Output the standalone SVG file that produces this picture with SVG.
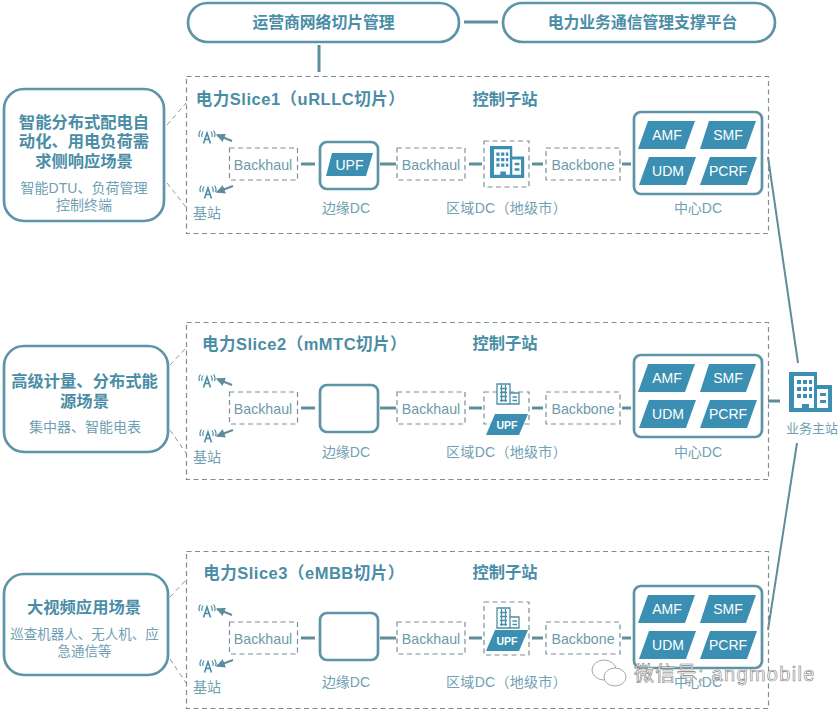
<svg xmlns="http://www.w3.org/2000/svg" width="840" height="713" viewBox="0 0 840 713">
<style>
text{font-family:"Liberation Sans","Noto Sans CJK SC",sans-serif;text-anchor:middle}
.pill,.scene,.solid{fill:#fff;stroke:#5d94a6;stroke-width:2.700}
.dash{fill:none;stroke:#7a8f98;stroke-width:1.200;stroke-dasharray:5 3.500}
.link{fill:none;stroke:#5f8d9c;stroke-width:3}
.thin{fill:none;stroke:#5f8d9c;stroke-width:2}
.lead{fill:none;stroke:#8a9ba2;stroke-width:1;stroke-dasharray:5 3.500}
.t1{font-size:15.800px;font-weight:bold;fill:#4a8da6}
.t2{font-size:16.300px;font-weight:bold;fill:#4a8da6}
.title{font-size:16.500px;font-weight:bold;fill:#4a8da6;letter-spacing:.5px}
.t3{font-size:14px;fill:#6fa0b3}
.t4{font-size:14.200px;fill:#6e9aa8}
.pg{fill:#3b8fb2}
.w{font-size:14px;fill:#fff}
.ws{font-size:10.500px;fill:#fff;font-weight:bold}
.wm{font-size:20px;fill:#fff;stroke:#808080;stroke-width:.6;text-anchor:start;letter-spacing:1.300px}
</style>
<defs>
<marker id="ah" viewBox="0 0 8 8" refX="7" refY="4" markerWidth="4.500" markerHeight="4.500" orient="auto-start-reverse"><path d="M0 0L8 4L0 8Z" fill="#5f8d9c"/></marker>
<symbol id="bld" viewBox="0 0 44 40" overflow="visible">
<path fill="#3b8fb2" fill-rule="evenodd" d="M2 0H28V13H43V40H0V0ZM5 4V36H13V32H20V36H25V4ZM28 17V36H39V17Z"/>
<path fill="#3b8fb2" d="M8 8h4v4H8zM14 8h4v4h-4zM20 8h3v4h-3zM8 15h4v4H8zM14 15h4v4h-4zM20 15h3v4h-3zM8 22h4v4H8zM14 22h4v4h-4zM20 22h3v4h-3zM31 21h6v3h-6zM31 28h6v3h-6z"/>
</symbol>
<symbol id="bldsm" viewBox="0 0 24 23" overflow="visible">
<path fill="none" stroke="#4a8da6" stroke-width="1.300" d="M1 1H14V21H1ZM14 10H23V21H14ZM4 5.500H11M4 9.500H11M4 13.500H11M4 17.500H11M5.500 2V19M9.500 2V19M16.500 14H21M16.500 17.500H21"/>
</symbol>
<g id="ant" fill="none" stroke="#4a8da6" stroke-width="1.200">
<path stroke-width="1.600" d="M-3.500 6.500L0 -4L3.500 6.500M-2 2.500H2"/>
<path d="M-4 -5.500Q-6 -3 -5 0M-6.500 -6.500Q-9 -3 -7.500 0M4 -5.500Q6 -3 5 0M6.500 -6.500Q9 -3 7.500 0"/>
</g>
<g id="core">
<rect class="solid" x="634" y="0" width="128" height="82" rx="7"/>
<path class="pg" d="M648 9H695L685 37H638Z"/>
<path class="pg" d="M709 9H756L746 37H700Z"/>
<path class="pg" d="M649 45H696L686 73H639Z"/>
<path class="pg" d="M710 45H757L747 73H700Z"/>
<text class="w" x="667" y="28">AMF</text>
<text class="w" x="728" y="28">SMF</text>
<text class="w" x="668" y="64">UDM</text>
<text class="w" x="728" y="64">PCRF</text>
</g>
<g id="chain">
<rect class="dash" x="229.500" y="-16" width="68" height="32"/>
<text class="t4" x="263" y="5.500">Backhaul</text>
<rect class="dash" x="397" y="-16" width="68" height="32"/>
<text class="t4" x="431" y="5.500">Backhaul</text>
<rect class="dash" x="546" y="-16" width="74" height="32"/>
<text class="t4" x="583" y="5.500">Backbone</text>
<use href="#ant" x="207" y="-27"/>
<use href="#ant" x="208" y="28"/>
<text class="t3" x="207" y="54">基站</text>
<text class="t3" x="346" y="49">边缘DC</text>
<text class="t3" x="506.500" y="49" style="letter-spacing:.3px">区域DC（地级市）</text>
</g>
<g id="chainlinks">
<path class="link" d="M301 0H315M380 0H396M469 0H482M532 0H543M622 0H631"/>
<path class="thin" marker-end="url(#ah)" d="M232 -23L217 -29"/>
<path class="thin" marker-end="url(#ah)" d="M233 22L217 28"/>
</g>
</defs>

<g id="connectors">
<path class="link" d="M464 22H498M319 45V72M768 401H780"/>
<path class="thin" d="M768 157L798 363M797 443L768 630"/>
<path class="lead" d="M167 125L186 103M167 183L186 207M170 365L186 348M170 430L186 453M170 597L186 580M170 659L186 683"/>
<use href="#chainlinks" y="164"/>
<use href="#chainlinks" y="408"/>
<use href="#chainlinks" y="638"/>
</g>

<g id="mgmt-operator"><rect class="pill" x="188" y="3" width="271" height="39" rx="19.500"/><text class="t1" x="323.500" y="27.500">运营商网络切片管理</text></g>
<g id="mgmt-power"><rect class="pill" x="503" y="3" width="272" height="39" rx="19.500"/><text class="t1" x="642.500" y="27.500">电力业务通信管理支撑平台</text></g>

<g id="scene1"><rect class="scene" x="4" y="89" width="160" height="132" rx="20"/>
<text class="t2" x="84" y="128">智能分布式配电自</text><text class="t2" x="84" y="147">动化、用电负荷需</text><text class="t2" x="84" y="167">求侧响应场景</text>
<text class="t3" x="84" y="193">智能DTU、负荷管理</text><text class="t3" x="84" y="210">控制终端</text></g>
<g id="scene2"><rect class="scene" x="4" y="346" width="164" height="106" rx="20"/>
<text class="t2" x="84.500" y="387">高级计量、分布式能</text><text class="t2" x="84.500" y="407">源场景</text><text class="t3" x="85" y="432">集中器、智能电表</text></g>
<g id="scene3"><rect class="scene" x="4" y="574" width="164" height="101" rx="20"/>
<text class="t2" x="84" y="613">大视频应用场景</text><text class="t3" x="84.500" y="639" style="font-size:13.500px">巡查机器人、无人机、应</text><text class="t3" x="84.500" y="656" style="font-size:13.500px">急通信等</text></g>

<g id="slice1">
<rect class="dash" x="186.500" y="76.500" width="582" height="157"/>
<text class="title" x="300.500" y="105">电力Slice1（uRLLC切片）</text><text class="t2" x="505" y="105">控制子站</text>
<use href="#chain" y="164"/>
<rect class="solid" x="320" y="142" width="58" height="47" rx="7"/>
<path class="pg" d="M332 153H373L366 176H326Z"/><text class="w" x="349.500" y="169.500">UPF</text>
<rect class="dash" x="484" y="141" width="45" height="46"/>
<use href="#bld" x="490" y="146" width="35" height="32"/>
<use href="#core" y="112"/>
<text class="t3" x="698" y="213">中心DC</text>
</g>
<g id="slice2">
<rect class="dash" x="186.500" y="322.500" width="582" height="157"/>
<text class="title" x="304.500" y="350">电力Slice2（mMTC切片）</text><text class="t2" x="505" y="349">控制子站</text>
<use href="#chain" y="408"/>
<rect class="solid" x="320" y="385" width="58" height="47" rx="7"/>
<rect class="dash" x="484" y="392" width="45" height="32"/>
<use href="#bldsm" x="496" y="383" width="24" height="23"/>
<path class="pg" d="M495 414H528L519 435H486Z"/><text class="ws" x="507" y="429">UPF</text>
<use href="#core" y="355"/>
<text class="t3" x="698" y="457">中心DC</text>
</g>
<g id="slice3">
<rect class="dash" x="186.500" y="551.500" width="582" height="157"/>
<text class="title" x="304" y="579">电力Slice3（eMBB切片）</text><text class="t2" x="505" y="578">控制子站</text>
<use href="#chain" y="638"/>
<rect class="solid" x="320" y="613" width="58" height="47" rx="7"/>
<rect class="dash" x="484" y="602" width="45" height="53"/>
<use href="#bldsm" x="496" y="607" width="24" height="23"/>
<path class="pg" d="M495 630H528L519 651H486Z"/><text class="ws" x="507" y="645">UPF</text>
<use href="#core" y="586"/>
<text class="t3" x="698" y="687">中心DC</text>
</g>
<g id="main-station">
<use href="#bld" x="789" y="372" width="44" height="40"/>
<text class="t3" x="812" y="433" style="font-size:13px">业务主站</text>
</g>
<g id="watermark">
<g fill="none" stroke="#a8a8a8" stroke-width="1"><ellipse cx="604" cy="670" rx="12" ry="10"/><ellipse cx="615" cy="677" rx="11" ry="9" fill="#fff"/></g>
<text class="wm" x="634" y="681">微信号: angmobile</text>
</g>
</svg>
